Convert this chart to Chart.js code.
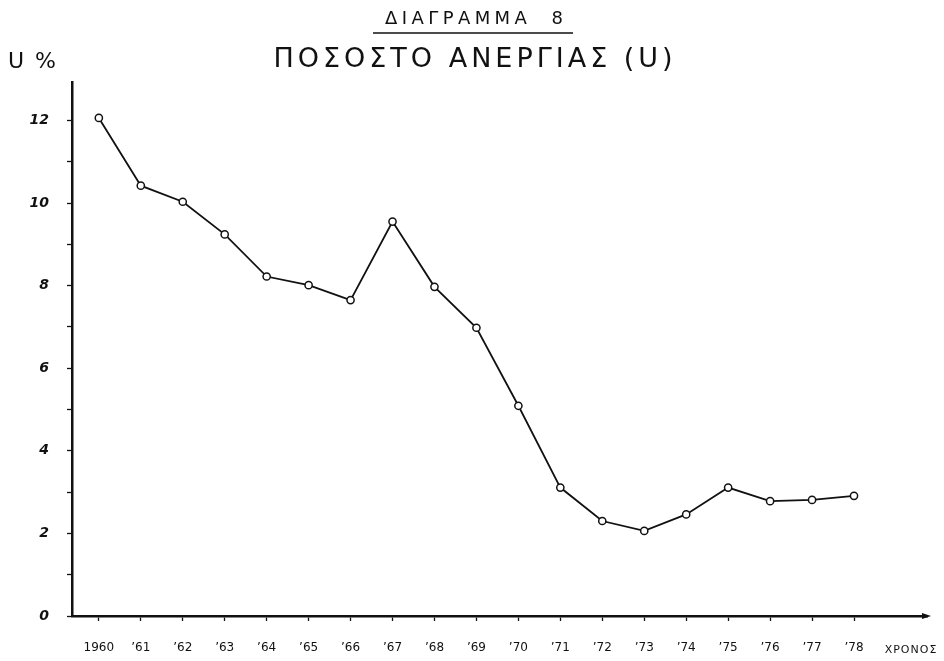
<!DOCTYPE html>
<html>
<head>
<meta charset="utf-8">
<script src="https://cdn.jsdelivr.net/npm/chart.js@4/dist/chart.umd.min.js"></script>
<style>
  html, body { margin: 0; padding: 0; background: #ffffff; }
  #wrap { width: 944px; height: 661px; }
</style>
</head>
<body>
<div id="wrap"><canvas id="c" width="944" height="661"></canvas></div>
<script>
// ---- data ----
const years = ['1960', '’61', '’62', '’63', '’64', '’65', '’66', '’67', '’68', '’69',
               '’70', '’71', '’72', '’73', '’74', '’75', '’76', '’77', '’78'];
const unemployment = [12.06, 10.42, 10.03, 9.24, 8.22, 8.01, 7.65, 9.55, 7.97, 6.98,
                      5.09, 3.11, 2.30, 2.06, 2.46, 3.11, 2.78, 2.81, 2.91];
const yTicks = [0, 1, 2, 3, 4, 5, 6, 7, 8, 9, 10, 11, 12];
const heading = 'ΔΙΑΓΡΑΜΜΑ  8';
const title = 'ΠΟΣΟΣΤΟ ΑΝΕΡΓΙΑΣ (U)';
const yAxisLabel = 'U %';
const xAxisLabel = 'ΧΡΟΝΟΣ';

const points = unemployment.map((v, i) => ({ x: i, y: v }));

function spacedText(ctx, text, cx, cy, targetWidth) {
  ctx.letterSpacing = '0px';
  const w0 = ctx.measureText(text).width;
  const sp = Math.max(0, (targetWidth - w0) / (text.length - 1));
  ctx.letterSpacing = sp.toFixed(1) + 'px';
  ctx.fillText(text, cx + sp / 2, cy);
}

const textPlugin = {
  id: 'texts',
  afterDraw(chart) {
    const ctx = chart.ctx;
    ctx.save();
    ctx.fillStyle = '#111';
    ctx.strokeStyle = '#111';
    ctx.textBaseline = 'middle';
    ctx.textAlign = 'center';

    // heading
    ctx.font = '18px "DejaVu Sans", sans-serif';
    spacedText(ctx, heading, 474, 19, 178);
    ctx.lineWidth = 1.6;
    ctx.beginPath();
    ctx.moveTo(373, 33);
    ctx.lineTo(573, 33);
    ctx.stroke();

    // main title
    ctx.font = '27px "DejaVu Sans", sans-serif';
    spacedText(ctx, title, 473, 60, 400);

    // y axis label
    ctx.letterSpacing = '2px';
    ctx.textAlign = 'left';
    ctx.font = '22px "DejaVu Sans", sans-serif';
    ctx.fillText(yAxisLabel, 8, 62);

    // x axis label
    ctx.textAlign = 'center';
    ctx.letterSpacing = '1px';
    ctx.font = '11px "DejaVu Sans", sans-serif';
    ctx.fillText(xAxisLabel, 911, 650);

    // arrow at end of x axis
    const xs = chart.scales.x, ys = chart.scales.y;
    const y0 = ys.getPixelForValue(0);
    const xe = xs.right + 4;
    ctx.beginPath();
    ctx.moveTo(xe, y0);
    ctx.lineTo(xe - 9, y0 - 3);
    ctx.lineTo(xe - 9, y0 + 3);
    ctx.closePath();
    ctx.fill();
    ctx.restore();
  }
};

new Chart(document.getElementById('c'), {
  type: 'line',
  data: {
    datasets: [{
      data: points,
      borderColor: '#111',
      borderWidth: 1.8,
      pointRadius: 3.6,
      pointBorderWidth: 1.5,
      pointBackgroundColor: '#ffffff',
      pointBorderColor: '#111',
      tension: 0,
      fill: false
    }]
  },
  options: {
    responsive: false,
    animation: false,
    layout: { padding: { top: 82, right: 17, left: 0, bottom: 0 } },
    plugins: { legend: { display: false }, tooltip: { enabled: false }, title: { display: false } },
    scales: {
      x: {
        type: 'linear',
        min: -0.64,
        max: 19.74,
        afterBuildTicks(scale) { scale.ticks = years.map((_, i) => ({ value: i })); },
        afterFit(scale) { scale.height = 45; },
        grid: { drawOnChartArea: false, drawTicks: true, tickLength: 5, tickWidth: 1.3, tickColor: '#111' },
        border: { display: true, color: '#111', width: 2.5 },
        ticks: {
          autoSkip: false,
          maxRotation: 0,
          padding: 20,
          color: '#111',
          font: { family: '"DejaVu Sans", sans-serif', size: 12 },
          callback: (v) => years[v] !== undefined ? years[v] : ''
        }
      },
      y: {
        type: 'linear',
        min: 0,
        max: 12.93,
        afterBuildTicks(scale) { scale.ticks = yTicks.map(v => ({ value: v })); },
        afterFit(scale) { scale.width = 72; },
        grid: { drawOnChartArea: false, drawTicks: true, tickLength: 5, tickWidth: 1.3, tickColor: '#111' },
        border: { display: true, color: '#111', width: 2.5 },
        ticks: {
          padding: 18,
          color: '#111',
          font: { family: '"DejaVu Sans", sans-serif', size: 14, weight: 'bold', style: 'italic' },
          callback: (v) => (v % 2 === 0 ? String(v) : '')
        }
      }
    }
  },
  plugins: [textPlugin]
});
</script>
</body>
</html>
